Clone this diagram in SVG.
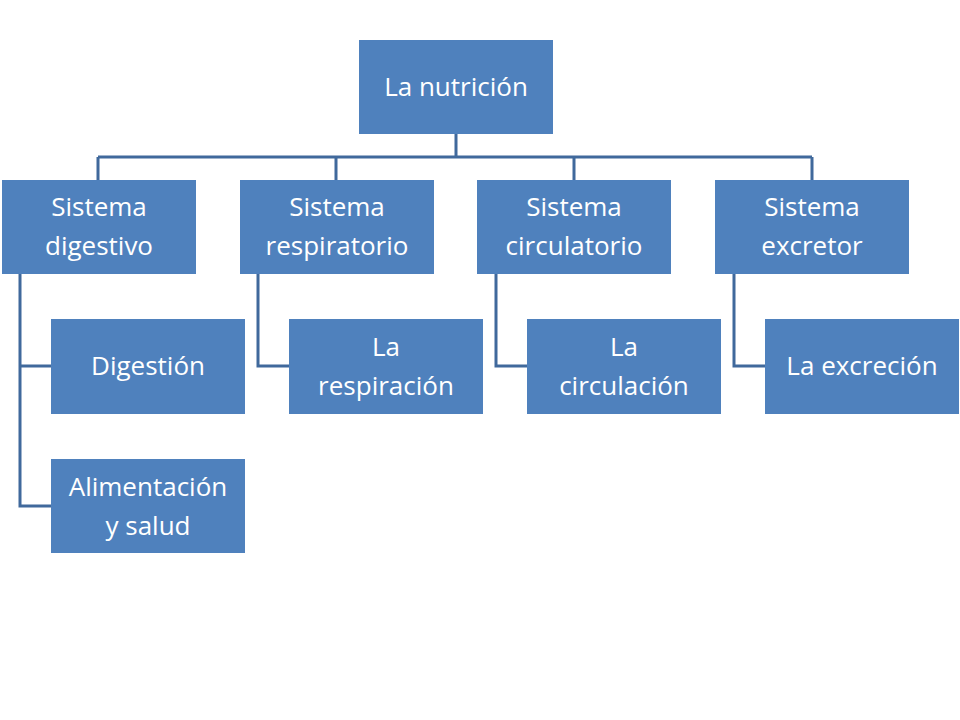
<svg xmlns="http://www.w3.org/2000/svg" width="960" height="720" viewBox="0 0 960 720">
<style>
.b{fill:#4f81bd}
.t{fill:#fff;font-family:"Open Sans","Liberation Sans",sans-serif;font-size:26px;text-anchor:middle}
.c{fill:none;stroke:#40699c;stroke-width:3}
</style>
<rect width="960" height="720" fill="#fff"/>
<g id="connectors">
<path class="c" d="M456 134V157M98 157H812M98 157V180M336 157V180M574 157V180M812 157V180"/>
<path class="c" d="M20 274V506H51M20 366H51M258 274V366H289M496 274V366H527M734 274V366H765"/>
</g>
<g id="root"><rect class="b" x="359" y="40" width="194" height="94"/><text class="t" x="456" y="96">La nutrición</text></g>
<g id="digestivo"><rect class="b" x="2" y="180" width="194" height="94"/><text class="t" x="99" y="216">Sistema</text><text class="t" x="99" y="255">digestivo</text></g>
<g id="respiratorio"><rect class="b" x="240" y="180" width="194" height="94"/><text class="t" x="337" y="216">Sistema</text><text class="t" x="337" y="255">respiratorio</text></g>
<g id="circulatorio"><rect class="b" x="477" y="180" width="194" height="94"/><text class="t" x="574" y="216">Sistema</text><text class="t" x="574" y="255">circulatorio</text></g>
<g id="excretor"><rect class="b" x="715" y="180" width="194" height="94"/><text class="t" x="812" y="216">Sistema</text><text class="t" x="812" y="255">excretor</text></g>
<g id="digestion"><rect class="b" x="51" y="319" width="194" height="95"/><text class="t" x="148" y="375">Digestión</text></g>
<g id="alimentacion"><rect class="b" x="51" y="459" width="194" height="94"/><text class="t" x="148" y="496">Alimentación</text><text class="t" x="148" y="535">y salud</text></g>
<g id="respiracion"><rect class="b" x="289" y="319" width="194" height="95"/><text class="t" x="386" y="356">La</text><text class="t" x="386" y="395">respiración</text></g>
<g id="circulacion"><rect class="b" x="527" y="319" width="194" height="95"/><text class="t" x="624" y="356">La</text><text class="t" x="624" y="395">circulación</text></g>
<g id="excrecion"><rect class="b" x="765" y="319" width="194" height="95"/><text class="t" x="862" y="375">La excreción</text></g>
</svg>
